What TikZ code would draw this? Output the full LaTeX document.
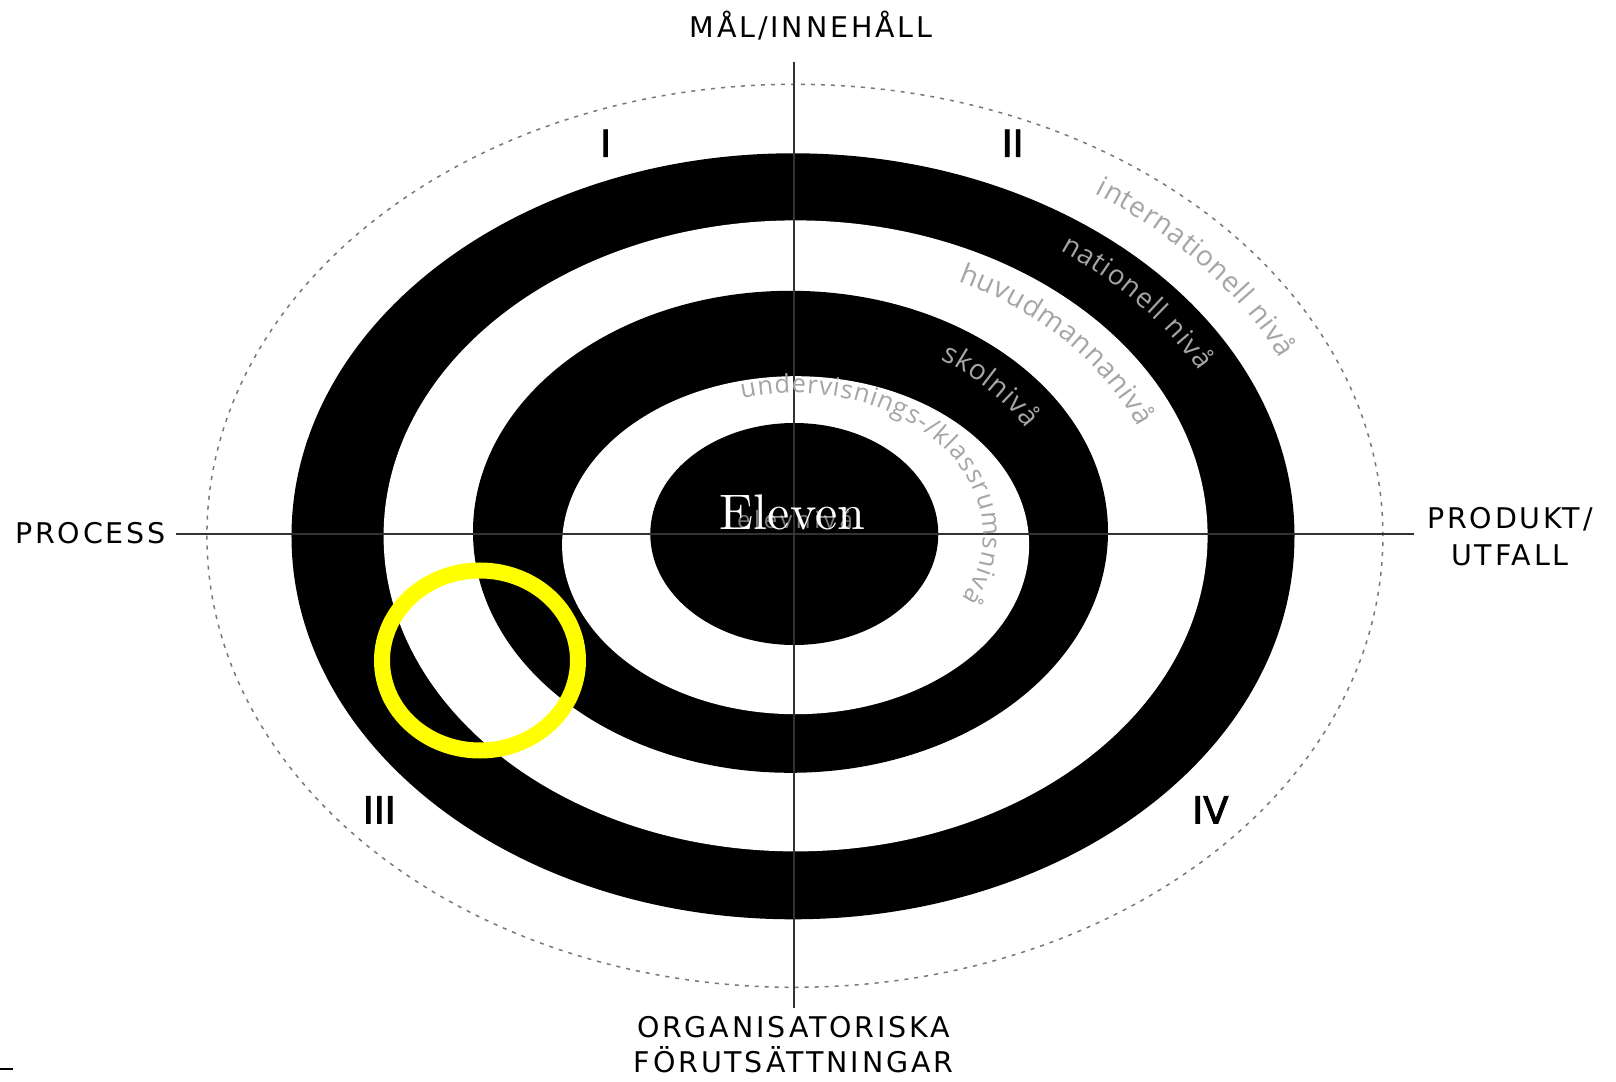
\documentclass[tikz,border=0pt]{standalone}
\usepackage{fontspec}
\usetikzlibrary{decorations.text}
\newfontfamily\capfont[LetterSpace=10]{DejaVu Sans}
\newfontfamily\numfont[FakeBold=2.5]{DejaVu Sans}
\newfontfamily\lvlfont{Open Sans}
\newfontfamily\lvlspaced[LetterSpace=15]{Open Sans}
\newfontfamily\elevfont{lmroman10-regular.otf}
\definecolor{lvlgray}{RGB}{165,165,165}
\definecolor{innergray}{RGB}{120,120,120}
\definecolor{linegray}{RGB}{50,50,50}
\definecolor{dotgray}{RGB}{120,120,120}
\definecolor{hiyellow}{RGB}{255,255,0}
\begin{document}
\begin{tikzpicture}[x=1pt,y=1pt,
  caplabel/.style={font=\capfont\fontsize{28.5}{33}\selectfont, inner sep=0pt, anchor=base},
  numlabel/.style={font=\numfont\fontsize{37}{40}\selectfont, inner sep=0pt, anchor=base},
  axisline/.style={draw=linegray, line width=2.5pt},
  dotring/.style={draw=dotgray, line width=1.5pt, dash pattern=on 4pt off 6pt},
]
\useasboundingbox (-794,-547) rectangle (822,534);
\fill[white] (-794,-547) rectangle (822,534);

% rings
\fill[black] (-1,-2.3) ellipse [x radius=501.5, y radius=383];
\fill[white] (1.6,-1.9) ellipse [x radius=412, y radius=315.5];
\fill[black] (-3.5,2.2) ellipse [x radius=317.5, y radius=241];
\fill[white] (1.6,-11.2) ellipse [x radius=233.5, y radius=169];
\fill[black] (0.3,0) ellipse [x radius=144, y radius=111];

% dotted outer ellipse
\draw[dotring] (0.9,-1.8) ellipse [x radius=588, y radius=451.5];

% axes
\coordinate (top) at (0,472);
\coordinate (bottom) at (0,-474);
\coordinate (left) at (-618,0);
\coordinate (right) at (620,0);
\draw[axisline] (top) -- (bottom);
\draw[axisline] (left) -- (right);

% level texts
\path[decorate, decoration={text along path, text align={fit to path}, text color=lvlgray,
  text={|\lvlfont\fontsize{28}{28}\selectfont|internationell nivå}}]
  ([shift={(56:540 and 413)}]-1,-2) arc[start angle=56, end angle=25.5, x radius=540, y radius=413];
\path[decorate, decoration={text along path, text align={fit to path}, text color=lvlgray,
  text={|\lvlfont\fontsize{27.5}{28}\selectfont|nationell nivå}}]
  ([shift={(54.5:460 and 351)}]-1,-2) arc[start angle=54.5, end angle=28, x radius=460, y radius=351];
\path[decorate, decoration={text along path, text align={fit to path}, text color=lvlgray,
  text={|\lvlfont\fontsize{28}{28}\selectfont|huvudmannanivå}}]
  ([shift={(64:371 and 283.5)}]1.6,-1.9) arc[start angle=64, end angle=22.5, x radius=371, y radius=283.5];
\path[decorate, decoration={text along path, text align={fit to path}, text color=lvlgray,
  text={|\lvlfont\fontsize{28}{28}\selectfont|skolnivå}}]
  ([shift={(56.5:272 and 207)}]-3.5,2.2) arc[start angle=56.5, end angle=30, x radius=272, y radius=207];
\path[decorate, decoration={text along path, text align={fit to path}, text color=lvlgray,
  text={|\lvlfont\fontsize{25.5}{26}\selectfont|undervisnings-/klassrumsnivå}}]
  ([shift={(106:189 and 141)}]0,0) arc[start angle=106, end angle=-27, x radius=189, y radius=141];

% centre
\node[font=\lvlspaced\fontsize{24}{24}\selectfont, text=innergray, inner sep=0pt, anchor=base] (elevniva) at (1,5.7) {elevnivå};
\node[font=\elevfont\fontsize{50}{50}\selectfont, text=white, inner sep=0pt, anchor=base] (eleven) at (-1.5,4) {Eleven};

% axis labels
\node[caplabel] (mal) at (17,496) {MÅL/INNEHÅLL};
\node[caplabel, anchor=base west] (process) at (-779,-9.3) {PROCESS};
\node[caplabel] (produkt) at (716,5.7) {PRODUKT/};
\node[caplabel] (utfall) at (716,-31) {UTFALL};
\node[caplabel] (org) at (-0.4,-503.7) {ORGANISATORISKA};
\node[caplabel] (forut) at (-0.4,-538.7) {FÖRUTSÄTTNINGAR};

% quadrant numerals
\node[numlabel] (q1) at (-188.3,377.3) {I};
\node[numlabel] (q2) at (218.7,377.3) {II};
\node[numlabel] (q3) at (-414.7,-289.3) {III};
\node[numlabel] (q4) at (416.4,-289.3) {IV};

% highlight
\draw[hiyellow, line width=16pt] (-314,-126.5) ellipse [x radius=98, y radius=90];

% stray mark
\fill[black] (-794,-533.7) rectangle (-781.3,-536.3);
\end{tikzpicture}
\end{document}
